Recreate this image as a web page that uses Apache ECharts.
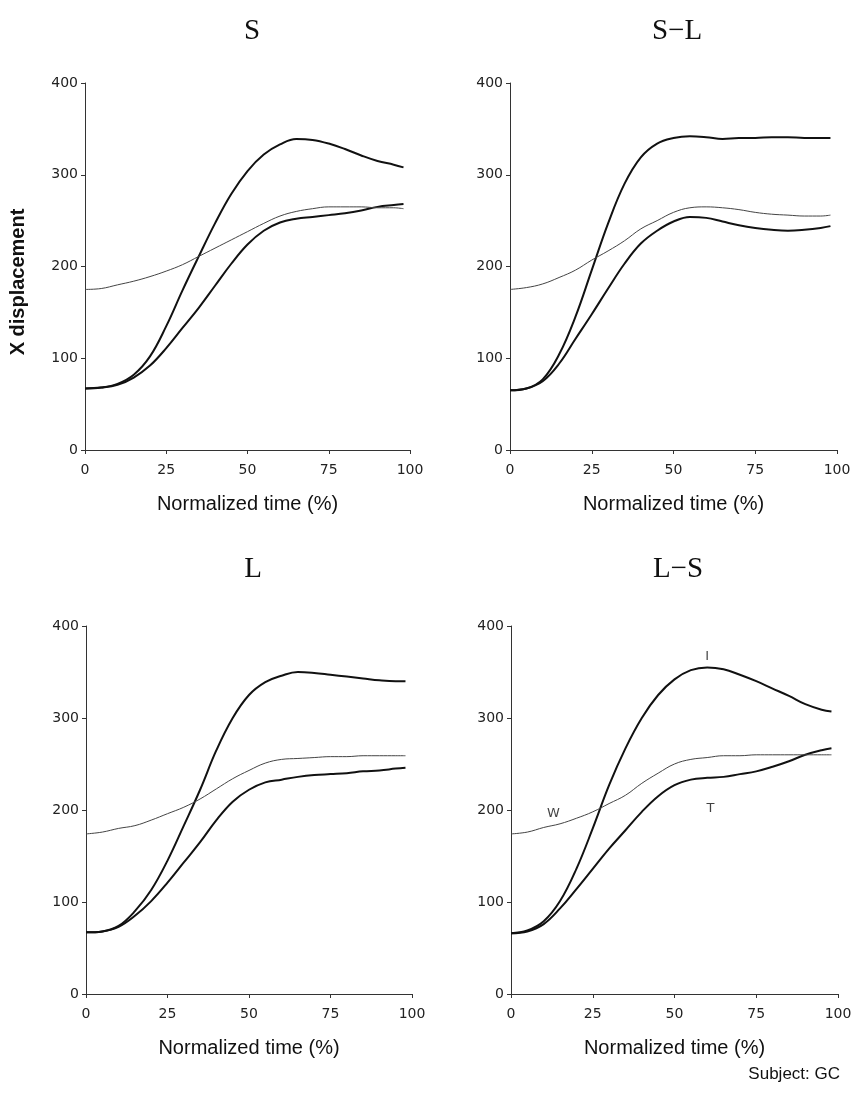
<!DOCTYPE html>
<html lang="en">
<head>
    <meta charset="UTF-8">
    <script src="https://cdn.jsdelivr.net/npm/echarts@6/dist/echarts.min.js"></script>
    <title>X displacement</title>
</head>
<body style="margin:0;background:#fff;">
<div id="main" style="width: 855px;height:1093px;"></div>
<script type="text/javascript">
    // normalized time (%) sampled for every curve
    var time = [0, 5, 10, 15, 20, 25, 30, 35, 40, 45, 50, 55, 60, 65, 70, 75, 80, 85, 90, 95, 98];

    // panel S
    var sI = [67, 68, 72, 82, 102, 135, 174, 211, 247, 279, 304, 322, 333, 339, 338, 334, 328, 321, 315, 311, 308];
    var sT = [67, 68, 71, 79, 92, 111, 133, 155, 179, 203, 224, 239, 248, 252, 254, 256, 258, 261, 265, 267, 268];
    var sW = [175, 176, 180, 184, 189, 195, 202, 211, 220, 229, 238, 247, 255, 260, 263, 265, 265, 265, 264, 264, 263];

    // panel S-L
    var slI = [65, 67, 77, 104, 145, 196, 247, 290, 319, 334, 340, 342, 341, 339, 340, 340, 341, 341, 340, 340, 340];
    var slT = [65, 67, 75, 94, 121, 148, 176, 203, 225, 239, 249, 254, 253, 249, 245, 242, 240, 239, 240, 242, 244];
    var slW = [175, 177, 181, 188, 196, 207, 217, 228, 241, 250, 259, 264, 265, 264, 262, 259, 257, 256, 255, 255, 256];

    // panel L
    var lI = [67, 68, 74, 90, 113, 145, 183, 222, 265, 300, 325, 339, 346, 350, 349, 347, 345, 343, 341, 340, 340];
    var lT = [67, 68, 73, 85, 101, 121, 143, 165, 189, 209, 222, 230, 233, 236, 238, 239, 240, 242, 243, 245, 246];
    var lW = [174, 176, 180, 183, 189, 196, 203, 212, 223, 234, 243, 251, 255, 256, 257, 258, 258, 259, 259, 259, 259];

    // panel L-S
    var lsI = [66, 69, 79, 101, 136, 180, 227, 267, 300, 325, 342, 352, 355, 353, 347, 340, 332, 324, 315, 309, 307];
    var lsT = [66, 68, 76, 93, 114, 136, 158, 178, 198, 215, 227, 233, 235, 236, 239, 242, 247, 253, 260, 265, 267];
    var lsW = [174, 176, 181, 185, 191, 198, 207, 216, 229, 240, 250, 255, 257, 259, 259, 260, 260, 260, 260, 260, 260];

    // curve labels in panel L-S: [time, value, text]
    var lsLabels = [[60, 367, 'I'], [13, 196, 'W'], [61, 202, 'T']];

    var panelTitles = ['S', 'S\u2212L', 'L', 'L\u2212S'];
    var xTicks = [0, 25, 50, 75, 100];
    var yTicks = [0, 100, 200, 300, 400];

    var panels = [[sI, sT, sW], [slI, slT, slW], [lI, lT, lW], [lsI, lsT, lsW]];

    var grids = [
        {left: 85, top: 83, width: 325, height: 367},
        {left: 510, top: 83, width: 327, height: 367},
        {left: 86, top: 626, width: 326, height: 368},
        {left: 511, top: 626, width: 327, height: 368}
    ];
    var titlePos = [[247, 12], [672, 12], [248, 550], [673, 550]];

    function pairs(ys) {
        var out = [];
        for (var i = 0; i < ys.length; i++) out.push([time[i], ys[i]]);
        return out;
    }

    var tickFont = {color: '#222', fontFamily: 'DejaVu Sans', fontSize: 14};
    var xAxes = [], yAxes = [], series = [], titles = [];
    for (var p = 0; p < 4; p++) {
        xAxes.push({
            type: 'value', gridIndex: p, min: 0, max: 100, interval: 25,
            name: 'Normalized time (%)', nameLocation: 'middle', nameGap: 44,
            nameTextStyle: {color: '#111', fontFamily: 'Liberation Sans', fontSize: 20},
            axisLine: {lineStyle: {color: '#333', width: 1}},
            axisTick: {show: true, length: 4, lineStyle: {color: '#333'}},
            axisLabel: Object.assign({margin: 13, formatter: function (v) { return xTicks.indexOf(v) >= 0 ? v : ''; }}, tickFont),
            splitLine: {show: false}
        });
        yAxes.push({
            type: 'value', gridIndex: p, min: 0, max: 400, interval: 100,
            axisLine: {show: true, lineStyle: {color: '#333', width: 1}},
            axisTick: {show: true, length: 4, lineStyle: {color: '#333'}},
            axisLabel: Object.assign({margin: 7, formatter: function (v) { return yTicks.indexOf(v) >= 0 ? v : ''; }}, tickFont),
            splitLine: {show: false}
        });
        titles.push({
            text: panelTitles[p], left: titlePos[p][0], top: titlePos[p][1], textAlign: 'center',
            textStyle: {fontFamily: 'Liberation Serif', fontWeight: 'normal', fontSize: 29, color: '#111'}
        });
        var widths = [2, 2, 1];
        for (var k = 0; k < 3; k++) {
            series.push({
                type: 'line', xAxisIndex: p, yAxisIndex: p, smooth: 0.4, showSymbol: false,
                lineStyle: {color: k < 2 ? '#111' : '#444', width: widths[k]},
                data: pairs(panels[p][k]), silent: true
            });
        }
    }
    series.push({
        type: 'scatter', xAxisIndex: 3, yAxisIndex: 3, symbolSize: 0,
        data: lsLabels.map(function (d) { return {value: [d[0], d[1]], name: d[2]}; }),
        label: {show: true, position: 'inside', formatter: '{b}', color: '#111', fontFamily: 'DejaVu Sans', fontSize: 13}
    });

    var myChart = echarts.init(document.getElementById('main'));
    var option = {
        backgroundColor: '#fff',
        animation: false,
        title: titles,
        grid: grids,
        xAxis: xAxes,
        yAxis: yAxes,
        series: series,
        graphic: [
            {type: 'text', x: 18, y: 282, rotation: Math.PI / 2,
             style: {text: 'X displacement', textAlign: 'center', textVerticalAlign: 'middle',
                     fontFamily: 'Liberation Sans', fontWeight: 'bold', fontSize: 20, fill: '#111'}},
            {type: 'text', x: 840, y: 1074,
             style: {text: 'Subject: GC', textAlign: 'right', textVerticalAlign: 'middle',
                     fontFamily: 'Liberation Sans', fontSize: 17, fill: '#111'}}
        ]
    };
    myChart.setOption(option);
</script>
</body>
</html>
